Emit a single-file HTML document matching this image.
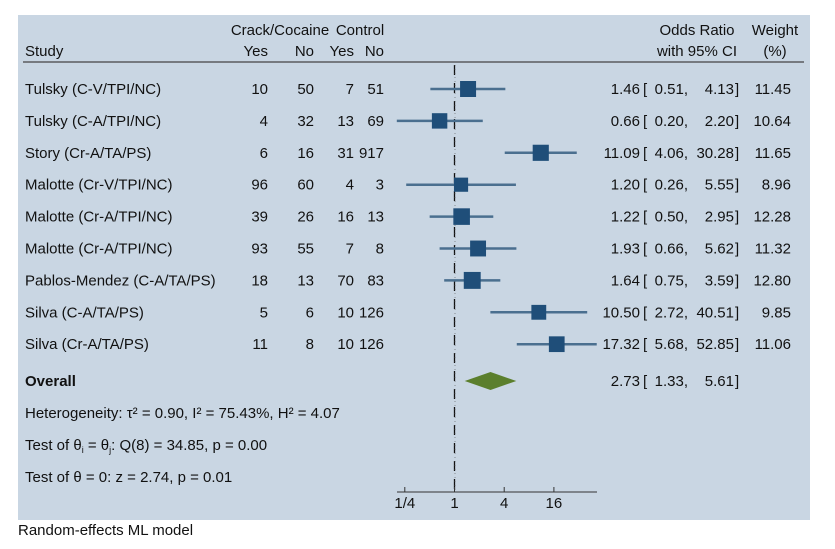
<!DOCTYPE html>
<html><head><meta charset="utf-8"><style>
body{margin:0;background:#fff;width:835px;height:544px;overflow:hidden}
svg text{font-family:"Liberation Sans",Arial,sans-serif;font-size:15px;fill:#111}
</style></head><body>
<svg id="c" width="835" height="544">
<rect x="18" y="15" width="792" height="505" fill="#c9d6e3"/>
<g id="g"></g>
<text x="18" y="535">Random-effects ML model</text>
</svg>
<script>
const studies=["Tulsky (C-V/TPI/NC)","Tulsky (C-A/TPI/NC)","Story (Cr-A/TA/PS)","Malotte (Cr-V/TPI/NC)","Malotte (Cr-A/TPI/NC)","Malotte (Cr-A/TPI/NC)","Pablos-Mendez (C-A/TA/PS)","Silva (C-A/TA/PS)","Silva (Cr-A/TA/PS)"];
const caseYes=[10,4,6,96,39,93,18,5,11];
const caseNo=[50,32,16,60,26,55,13,6,8];
const ctrlYes=[7,13,31,4,16,7,70,10,10];
const ctrlNo=[51,69,917,3,13,8,83,126,126];
const or=[1.46,0.66,11.09,1.20,1.22,1.93,1.64,10.50,17.32];
const lo=[0.51,0.20,4.06,0.26,0.50,0.66,0.75,2.72,5.68];
const hi=[4.13,2.20,30.28,5.55,2.95,5.62,3.59,40.51,52.85];
const weight=[11.45,10.64,11.65,8.96,12.28,11.32,12.80,9.85,11.06];
const overall=[2.73,1.33,5.61];
const ticks=[0.25,1,4,16];
const tickLabels=["1/4","1","4","16"];
const g=document.getElementById('g');
const NS="http://www.w3.org/2000/svg";
const X=v=>454.5+24.85*Math.log2(v);
const rowY=i=>89+i*31.9;
function el(t,a,txt){const e=document.createElementNS(NS,t);for(const k in a)e.setAttribute(k,a[k]);if(txt!=null)e.textContent=txt;g.appendChild(e);return e;}
function tx(x,y,s,anchor,name){const e=el('text',{x:x,y:y,'text-anchor':anchor||'start'},s);

return e;}
tx(280,35,"Crack/Cocaine","middle","header-crack-cocaine");
tx(360,35,"Control","middle","header-control");
tx(25,56,"Study","start","header-study");
tx(268,56,"Yes","end","header-case-yes");
tx(314,56,"No","end","header-case-no");
tx(354,56,"Yes","end","header-control-yes");
tx(384,56,"No","end","header-control-no");
tx(697,35,"Odds Ratio","middle","header-odds-ratio");
tx(697,56,"with 95% CI","middle","header-ci");
tx(775,35,"Weight","middle","header-weight");
tx(775,56,"(%)","middle","header-weight-pct");
let hr=el('line',{x1:23,x2:804,y1:62,y2:62,stroke:'#444','stroke-width':1.3});


let r1=el('line',{x1:X(1),x2:X(1),y1:65,y2:492,stroke:'#111','stroke-width':1.3,'stroke-dasharray':'10 8'});


let r2=el('line',{x1:X(1)+0.5,x2:X(1)+0.5,y1:65,y2:492,stroke:'#555','stroke-width':0.6,'stroke-dasharray':'1 3'});


const f=v=>v.toFixed(2);
studies.forEach((s,i)=>{const y=rowY(i),ty=y+5;
tx(25,ty,s,"start","study-label");
tx(268,ty,caseYes[i],"end","case-yes");
tx(314,ty,caseNo[i],"end","case-no");
tx(354,ty,ctrlYes[i],"end","control-yes");
tx(384,ty,ctrlNo[i],"end","control-no");
const l=el('line',{x1:X(lo[i]),x2:X(hi[i]),y1:y,y2:y,stroke:'#4a6f8f','stroke-width':2.5});


const sz=16*Math.sqrt(weight[i]/11.45);
const r=el('rect',{x:X(or[i])-sz/2,y:y-sz/2,width:sz,height:sz,fill:'#1f4e79'});


tx(640,ty,f(or[i]),"end","odds-ratio");
tx(643,ty,"[","start","bracket");
tx(688,ty,f(lo[i])+",","end","ci-lower");
tx(734,ty,f(hi[i]),"end","ci-upper");
tx(735,ty,"]","start","bracket");
tx(791,ty,f(weight[i]),"end","weight");
});
const oy=381;
tx(25,oy+5,"Overall","start","overall-label").setAttribute('font-weight','bold');
const d=el('polygon',{points:`${X(overall[1])},${oy} ${X(overall[0])},${oy-9} ${X(overall[2])},${oy} ${X(overall[0])},${oy+9}`,fill:'#5b7f2d'});


tx(640,oy+5,f(overall[0]),"end","overall-or");
tx(643,oy+5,"[","start","bracket");
tx(688,oy+5,f(overall[1])+",","end","overall-lower");
tx(734,oy+5,f(overall[2]),"end","overall-upper");
tx(735,oy+5,"]","start","bracket");
tx(25,418,"Heterogeneity: τ² = 0.90, I² = 75.43%, H² = 4.07","start","heterogeneity");
const t2=tx(25,450,"","start","test-equal");
t2.innerHTML='Test of θ<tspan dy="3" font-size="9">i</tspan><tspan dy="-3"> = θ</tspan><tspan dy="3" font-size="9">j</tspan><tspan dy="-3">: Q(8) = 34.85, p = 0.00</tspan>';
tx(25,482,"Test of θ = 0: z = 2.74, p = 0.01","start","test-zero");
const ax=el('line',{x1:397,x2:597,y1:492,y2:492,stroke:'#333','stroke-width':1});


ticks.forEach((t,i)=>{const tk=el('line',{x1:X(t),x2:X(t),y1:487,y2:492,stroke:'#333'});


tx(X(t),508,tickLabels[i],"middle","x-tick-label");});
</script>
</body></html>
